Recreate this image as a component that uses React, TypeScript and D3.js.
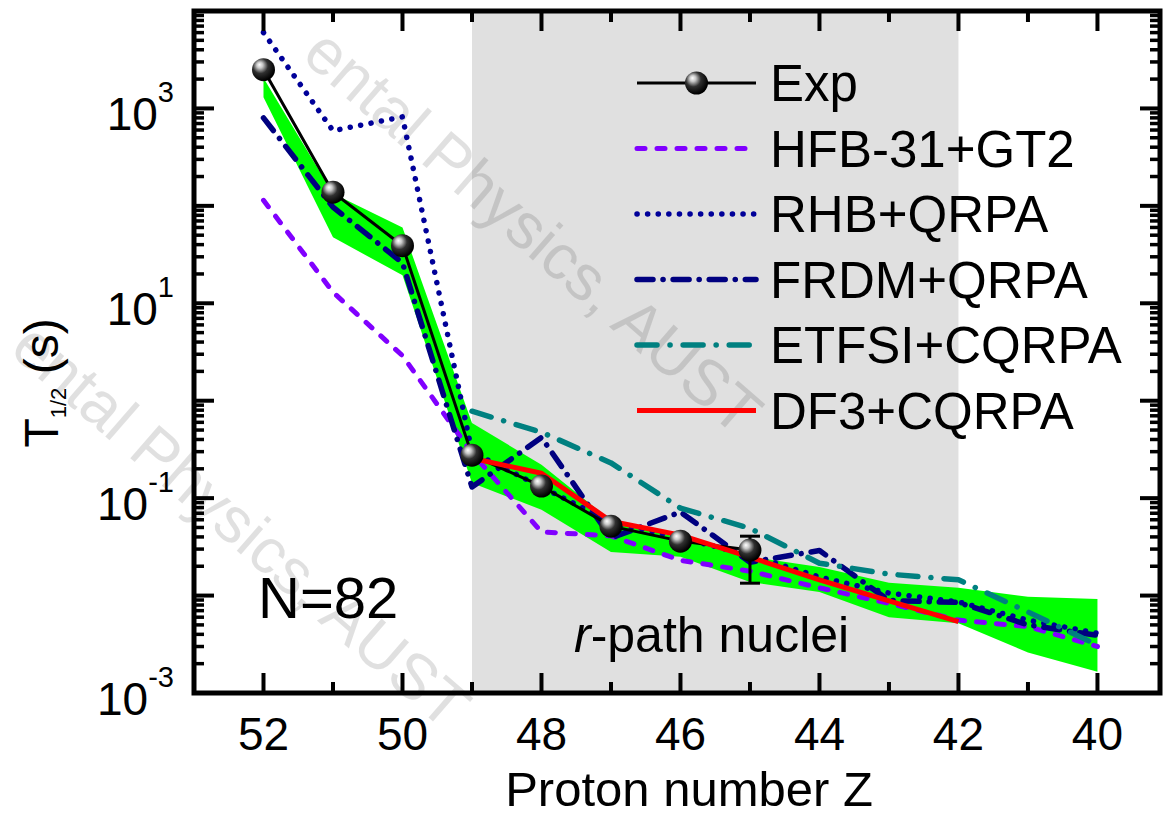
import React from "react";
import * as d3 from "d3";

const Z_ALL = [52, 51, 50, 49, 48, 47, 46, 45, 44, 43, 42, 41, 40];
const Z_EXP = [52, 51, 50, 49, 48, 47, 46, 45];
const EXP = [2500, 138, 39, 0.276, 0.133, 0.0516, 0.0362, 0.0293];
const EXP_ERR_Z = [45];
const EXP_ERR_LO = [0.0134];
const EXP_ERR_HI = [0.0407];

const HFB = [114, 13, 2.9, 0.29, 0.045, 0.041, 0.023, 0.0178, 0.012, 0.0083, 0.0056, 0.0048, 0.003];
const RHB = [6000, 590, 820, 0.297, 0.13, 0.057, 0.039, 0.026, 0.0155, 0.0106, 0.0086, 0.0056, 0.0041];
const FRDM = [800, 97, 26, 0.13, 0.42, 0.039, 0.072, 0.022, 0.029, 0.0089, 0.0085, 0.005, 0.0039];
const Z_ETFSI = [49, 48, 47, 46, 45, 44, 43, 42, 41, 40];
const ETFSI = [0.78, 0.475, 0.23, 0.079, 0.049, 0.0215, 0.0166, 0.0145, 0.0068, 0.0031];
const Z_DF3 = [49, 48, 47, 46, 45, 44, 43, 42];
const DF3 = [0.257, 0.18, 0.058, 0.0417, 0.0248, 0.0145, 0.0088, 0.0054];
const BAND_HI = [2050, 134, 60, 0.59, 0.22, 0.059, 0.039, 0.025, 0.0196, 0.0135, 0.012, 0.0097, 0.0092];
const BAND_LO = [1300, 47.5, 19.4, 0.143, 0.076, 0.028, 0.025, 0.0138, 0.0109, 0.006, 0.0052, 0.0026, 0.00165];

const X_TICKS = [52, 50, 48, 46, 44, 42, 40];
const X_MINOR = [51, 49, 47, 45, 43, 41];
const Y_LABEL_EXP = [3, 1, -1, -3];
const SHADE = [49, 42];
const WATERMARK = "ental Physics, AUST";

const LEGEND = [
  { name: "Exp", color: "#000000", dash: "", width: 3, marker: true },
  { name: "HFB-31+GT2", color: "#8000ff", dash: "8,12", width: 5, marker: false },
  { name: "RHB+QRPA", color: "#000099", dash: "0.1,10.5", width: 5.5, marker: false },
  { name: "FRDM+QRPA", color: "#000080", dash: "16,10,0.1,10", width: 5.5, marker: false },
  { name: "ETFSI+CQRPA", color: "#008080", dash: "20,13,0.1,13", width: 5.5, marker: false },
  { name: "DF3+CQRPA", color: "#ff0000", dash: "", width: 5, marker: false },
];

const FONT = "'Liberation Sans', Arial, Helvetica, sans-serif";

export default function App() {
  const L = 194, R = 1160, T = 11, B = 693;
  const x = d3.scaleLinear().domain([53, 39.1]).range([L, R]);
  const y = d3.scaleLog().domain([1e-3, 1e4]).range([B, T]);

  const line = (zs: number[], vs: number[]) =>
    d3.line<number>().x((_, i) => x(zs[i])).y((v) => y(v))(vs) || "";

  const band =
    d3
      .area<number>()
      .x((_, i) => x(Z_ALL[i]))
      .y0((_, i) => y(BAND_LO[i]))
      .y1((v) => y(v))(BAND_HI) || "";

  const yMajor: number[] = [];
  const yMinor: number[] = [];
  for (let e = -3; e <= 4; e++) {
    yMajor.push(Math.pow(10, e));
    if (e < 4) for (let k = 2; k <= 9; k++) yMinor.push(k * Math.pow(10, e));
  }

  const series = [
    { zs: Z_ALL, vs: HFB, st: LEGEND[1] },
    { zs: Z_ALL, vs: RHB, st: LEGEND[2] },
    { zs: Z_ALL, vs: FRDM, st: LEGEND[3] },
    { zs: Z_ETFSI, vs: ETFSI, st: LEGEND[4] },
  ];

  const legX0 = 637, legX1 = 756, legTextX = 770, legY0 = 83, legDy = 65.5;

  return (
    <svg width={1166} height={819} style={{ display: "block", position: "absolute", left: 0, top: 0 }} fontFamily={FONT}>
      <defs>
        <radialGradient id="ball" cx="0.4" cy="0.38" r="0.6" fx="0.32" fy="0.28">
          <stop offset="0" stopColor="#ffffff" />
          <stop offset="0.22" stopColor="#c8c8c8" />
          <stop offset="0.55" stopColor="#303030" />
          <stop offset="1" stopColor="#000000" />
        </radialGradient>
        <clipPath id="plotclip">
          <rect x={L} y={T} width={R - L} height={B - T} />
        </clipPath>
      </defs>
      <rect x={0} y={0} width={1166} height={819} fill="#ffffff" />
      {/* shaded r-path region */}
      <rect x={x(SHADE[0])} y={T} width={x(SHADE[1]) - x(SHADE[0])} height={B - T} fill="#e0e0e0" />

      {/* watermark */}
      <g fill="#000" fillOpacity={0.12} fontSize={64}>
        <text transform="translate(300,58) rotate(41)">{WATERMARK}</text>
        <text transform="translate(8,352) rotate(41)">{WATERMARK}</text>
      </g>

      <g clipPath="url(#plotclip)">
        <path d={band} fill="#00ff00" />
        {series.map((s, i) => (
          <path key={i} d={line(s.zs, s.vs)} fill="none" stroke={s.st.color} strokeWidth={s.st.width}
            strokeDasharray={s.st.dash} strokeLinecap="round" strokeLinejoin="round" />
        ))}
        <path d={line(Z_EXP, EXP)} fill="none" stroke="#000" strokeWidth={3} />
        <path d={line(Z_DF3, DF3)} fill="none" stroke="#ff0000" strokeWidth={5} strokeLinejoin="round" />
        {EXP_ERR_Z.map((z, i) => (
          <g key={i} stroke="#000" strokeWidth={3}>
            <line x1={x(z)} x2={x(z)} y1={y(EXP_ERR_LO[i])} y2={y(EXP_ERR_HI[i])} />
            <line x1={x(z) - 10} x2={x(z) + 10} y1={y(EXP_ERR_LO[i])} y2={y(EXP_ERR_LO[i])} />
            <line x1={x(z) - 10} x2={x(z) + 10} y1={y(EXP_ERR_HI[i])} y2={y(EXP_ERR_HI[i])} />
          </g>
        ))}
        {Z_EXP.map((z, i) => (
          <circle key={i} cx={x(z)} cy={y(EXP[i])} r={11.5} fill="url(#ball)" />
        ))}
      </g>

      {/* frame */}
      <rect x={L} y={T} width={R - L} height={B - T} fill="none" stroke="#000" strokeWidth={5} />

      {/* ticks */}
      <g stroke="#000" strokeWidth={4}>
        {X_TICKS.map((z) => (
          <g key={"xm" + z}>
            <line x1={x(z)} x2={x(z)} y1={B} y2={B - 20} />
            <line x1={x(z)} x2={x(z)} y1={T} y2={T + 20} />
          </g>
        ))}
        {X_MINOR.map((z) => (
          <g key={"xn" + z}>
            <line x1={x(z)} x2={x(z)} y1={B} y2={B - 11} />
            <line x1={x(z)} x2={x(z)} y1={T} y2={T + 11} />
          </g>
        ))}
        {yMajor.map((v) => (
          <g key={"ym" + v}>
            <line x1={L} x2={L + 20} y1={y(v)} y2={y(v)} />
            <line x1={R} x2={R - 20} y1={y(v)} y2={y(v)} />
          </g>
        ))}
        {yMinor.map((v) => (
          <g key={"yn" + v}>
            <line x1={L} x2={L + 10} y1={y(v)} y2={y(v)} strokeWidth={3.5} />
            <line x1={R} x2={R - 10} y1={y(v)} y2={y(v)} strokeWidth={3.5} />
          </g>
        ))}
      </g>

      {/* x tick labels */}
      <g fontSize={46} textAnchor="middle" fill="#000">
        {X_TICKS.map((z) => (
          <text key={"xl" + z} x={x(z)} y={750}>{z}</text>
        ))}
      </g>
      {/* y tick labels */}
      <g fontSize={46} textAnchor="end" fill="#000">
        {Y_LABEL_EXP.map((e) => (
          <text key={"yl" + e} x={174} y={y(Math.pow(10, e)) + 22}>
            10<tspan fontSize={29} dy={-28}>{e}</tspan>
          </text>
        ))}
      </g>

      {/* axis titles */}
      <text x={689} y={806} fontSize={49} textAnchor="middle">Proton number Z</text>
      <text transform="translate(58,383) rotate(-90)" fontSize={48} textAnchor="middle">
        T<tspan fontSize={22} dy={8}>1/2</tspan><tspan dy={-8}> (s)</tspan>
      </text>

      {/* annotations */}
      <text x={258} y={618} fontSize={58}>N=82</text>
      <text x={574} y={652} fontSize={50}><tspan fontStyle="italic">r</tspan>-path nuclei</text>

      {/* legend */}
      {LEGEND.map((s, i) => {
        const ly = legY0 + i * legDy;
        return (
          <g key={s.name}>
            <line x1={legX0} x2={legX1} y1={ly} y2={ly} stroke={s.color} strokeWidth={s.width}
              strokeDasharray={s.dash} strokeLinecap={s.dash ? "round" : "butt"} />
            {s.marker && <circle cx={(legX0 + legX1) / 2} cy={ly} r={11.5} fill="url(#ball)" />}
            <text x={legTextX} y={ly + 18} fontSize={51}>{s.name}</text>
          </g>
        );
      })}
    </svg>
  );
}
